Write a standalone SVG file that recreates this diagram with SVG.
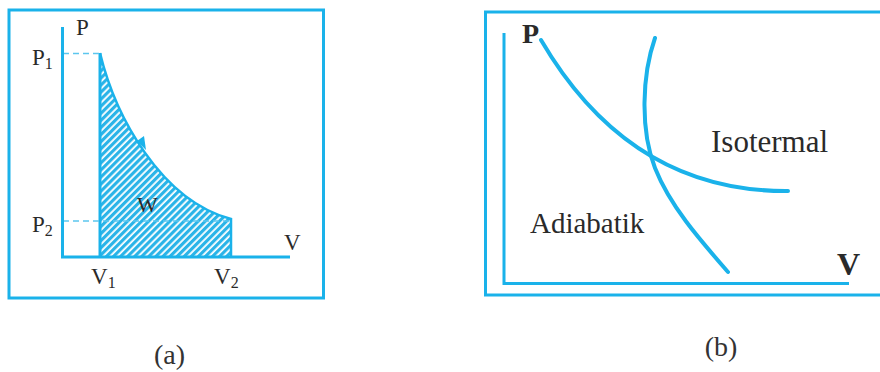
<svg xmlns="http://www.w3.org/2000/svg" width="880" height="372" viewBox="0 0 880 372">
<style>
.frame{fill:none;stroke:#1ab2ea;stroke-width:3}
.axis{fill:none;stroke:#1ab2ea;stroke-width:3}
.curve{fill:none;stroke:#1ab2ea;stroke-width:4;stroke-linecap:round}
.dash{fill:none;stroke:#5cc6ee;stroke-width:1.6;stroke-dasharray:6 4}
.lbl{font-family:"Liberation Serif",serif;fill:#2a2a2a}
.cap{font-family:"Liberation Serif",serif;fill:#333;font-size:28px}
</style>
<defs>
<pattern id="hatch" patternUnits="userSpaceOnUse" width="5" height="5" patternTransform="rotate(45)">
<rect width="5" height="5" fill="#ffffff"/>
<rect width="3.2" height="5" fill="#2ab4e8"/>
</pattern>
</defs>
<rect width="880" height="372" fill="#ffffff"/>

<g id="panel-a">
<rect class="frame" x="9" y="10" width="314.5" height="288"/>
<path d="M100,53 C115,115 160,200 231,219 L231,257 L100,257 Z" fill="url(#hatch)"/>
<path d="M100,53 C115,115 160,200 231,219 L231,257" fill="none" stroke="#1ab2ea" stroke-width="2.5"/>
<line x1="100" y1="53" x2="100" y2="257" stroke="#1ab2ea" stroke-width="3"/>
<polygon points="146,150 137,141 144,136" fill="#1ab2ea"/>
<line class="dash" x1="63" y1="53.5" x2="100" y2="53.5"/>
<line class="dash" x1="63" y1="221" x2="231" y2="221"/>
<path class="axis" d="M62.5,27 V257 H290"/>
<text class="lbl" x="76" y="35" font-size="23">P</text>
<text class="lbl" x="32" y="65" font-size="23">P<tspan font-size="16" dy="4">1</tspan></text>
<text class="lbl" x="32" y="232" font-size="23">P<tspan font-size="16" dy="4">2</tspan></text>
<text class="lbl" x="91" y="284" font-size="23">V<tspan font-size="16" dy="4">1</tspan></text>
<text class="lbl" x="214" y="284" font-size="23">V<tspan font-size="16" dy="4">2</tspan></text>
<text class="lbl" x="284" y="250" font-size="23">V</text>
<text class="lbl" x="137" y="212" font-size="22">W</text>
</g>

<g id="panel-b">
<rect class="frame" x="485.5" y="12" width="400" height="283"/>
<path class="axis" d="M504,33 V283.5 H849"/>
<path id="isotermal" class="curve" d="M541,40 C582,110 655,192 788,191"/>
<path id="adiabatik" class="curve" d="M655,38 C642,75 640,130 655,168 C670,206 700,240 728,272"/>
<text class="lbl" x="522" y="43" font-size="28" font-weight="bold" fill="#333">P</text>
<text class="lbl" x="837" y="275" font-size="32" font-weight="bold" fill="#333">V</text>
<text class="lbl" x="711" y="152" font-size="31" fill="#111">Isotermal</text>
<text class="lbl" x="530" y="233" font-size="29" fill="#111">Adiabatik</text>
</g>

<g id="captions">
<text class="cap" x="169.5" y="364" text-anchor="middle">(a)</text>
<text class="cap" x="721" y="356" text-anchor="middle">(b)</text>
</g>
</svg>
